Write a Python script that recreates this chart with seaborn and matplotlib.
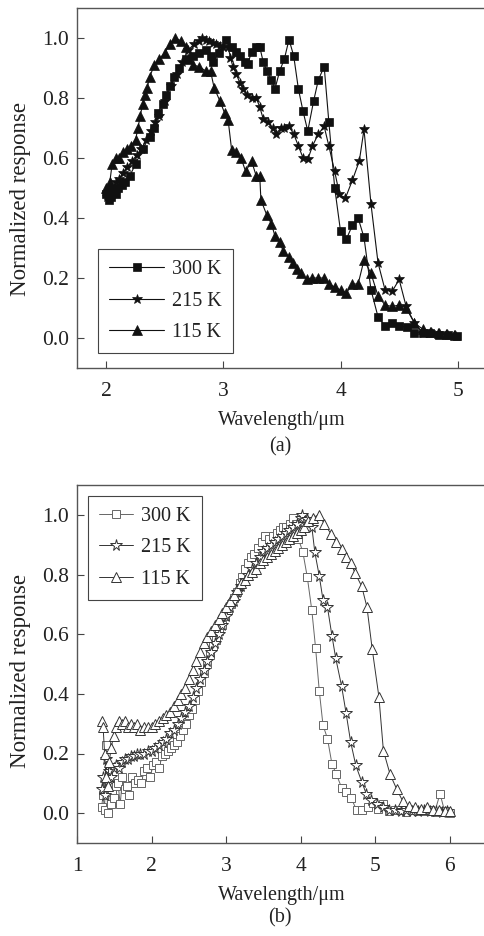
import matplotlib
matplotlib.use("Agg")
import matplotlib.pyplot as plt
import seaborn as sns

# ---- panel (a) ----
a_300_x = [2.00, 2.02, 2.04, 2.06, 2.08, 2.10, 2.13, 2.16, 2.20, 2.25, 2.31, 2.37, 2.41, 2.44, 2.48, 2.51, 2.54,
           2.58, 2.62, 2.68, 2.74, 2.79, 2.85, 2.89, 2.91, 2.96, 3.02, 3.07, 3.11, 3.14, 3.18, 3.21, 3.24, 3.28,
           3.31, 3.34, 3.37, 3.41, 3.44, 3.48, 3.52, 3.56, 3.60, 3.64, 3.68, 3.72, 3.77, 3.81, 3.86, 3.90, 3.95,
           4.00, 4.05, 4.10, 4.15, 4.20, 4.26, 4.32, 4.38, 4.44, 4.50, 4.57, 4.63, 4.70, 4.76, 4.84, 4.92, 4.99]
a_300_y = [0.48, 0.46, 0.47, 0.49, 0.48, 0.50, 0.51, 0.52, 0.54, 0.58, 0.63, 0.67, 0.70, 0.75, 0.78, 0.81, 0.84,
           0.87, 0.90, 0.93, 0.94, 0.95, 0.96, 0.94, 0.92, 0.95, 0.995, 0.97, 0.955, 0.94, 0.92, 0.915, 0.955, 0.97,
           0.97, 0.92, 0.89, 0.86, 0.83, 0.89, 0.93, 0.995, 0.94, 0.83, 0.755, 0.69, 0.79, 0.86, 0.905, 0.72, 0.50,
           0.355, 0.33, 0.375, 0.40, 0.335, 0.16, 0.07, 0.04, 0.05, 0.04, 0.035, 0.017, 0.018, 0.016, 0.01, 0.01, 0.007]

a_215_x = [2.01, 2.03, 2.05, 2.08, 2.11, 2.14, 2.18, 2.22, 2.26, 2.30, 2.34, 2.38, 2.42, 2.45, 2.50, 2.55, 2.60,
           2.65, 2.70, 2.75, 2.79, 2.82, 2.85, 2.88, 2.91, 2.94, 2.97, 3.00, 3.04, 3.06, 3.08, 3.11, 3.14, 3.17,
           3.20, 3.24, 3.28, 3.31, 3.34, 3.38, 3.42, 3.45, 3.49, 3.52, 3.56, 3.60, 3.64, 3.68, 3.72, 3.76, 3.81,
           3.86, 3.90, 3.95, 3.99, 4.04, 4.10, 4.16, 4.20, 4.26, 4.32, 4.38, 4.44, 4.50, 4.56, 4.63, 4.70, 4.76,
           4.83, 4.90, 4.97]
a_215_y = [0.47, 0.50, 0.48, 0.52, 0.53, 0.55, 0.57, 0.59, 0.61, 0.63, 0.66, 0.69, 0.72, 0.74, 0.79, 0.84, 0.88,
           0.92, 0.96, 0.98, 0.99, 1.00, 0.995, 0.99, 0.985, 0.98, 0.975, 0.97, 0.97, 0.935, 0.905, 0.88, 0.85, 0.83,
           0.81, 0.80, 0.80, 0.77, 0.73, 0.72, 0.70, 0.68, 0.70, 0.70, 0.705, 0.68, 0.64, 0.60, 0.595, 0.64, 0.68,
           0.705, 0.64, 0.555, 0.48, 0.465, 0.525, 0.59, 0.695, 0.445, 0.25, 0.16, 0.155, 0.195, 0.105, 0.05, 0.018,
           0.02, 0.015, 0.012, 0.01]

a_115_x = [2.00, 2.02, 2.03, 2.05, 2.08, 2.11, 2.14, 2.18, 2.21, 2.25, 2.27, 2.29, 2.31, 2.33, 2.35, 2.37, 2.41,
           2.45, 2.50, 2.54, 2.59, 2.64, 2.68, 2.71, 2.74, 2.79, 2.85, 2.89, 2.92, 2.97, 3.01, 3.04, 3.07, 3.11,
           3.15, 3.19, 3.24, 3.28, 3.31, 3.32, 3.37, 3.41, 3.44, 3.48, 3.51, 3.56, 3.59, 3.63, 3.66, 3.71, 3.76,
           3.81, 3.86, 3.90, 3.95, 4.00, 4.05, 4.10, 4.15, 4.20, 4.26, 4.32, 4.38, 4.44, 4.50, 4.56, 4.63, 4.70,
           4.77, 4.84, 4.91, 4.98]
a_115_y = [0.50, 0.48, 0.52, 0.58, 0.60, 0.60, 0.62, 0.63, 0.64, 0.66, 0.70, 0.74, 0.78, 0.81, 0.835, 0.87, 0.91,
           0.93, 0.95, 0.98, 1.00, 0.99, 0.97, 0.93, 0.91, 0.905, 0.89, 0.89, 0.835, 0.79, 0.75, 0.727, 0.627, 0.62,
           0.60, 0.555, 0.59, 0.54, 0.54, 0.46, 0.41, 0.38, 0.34, 0.32, 0.29, 0.27, 0.25, 0.23, 0.215, 0.195, 0.20,
           0.20, 0.20, 0.18, 0.17, 0.16, 0.15, 0.18, 0.18, 0.26, 0.215, 0.14, 0.11, 0.105, 0.11, 0.10, 0.05, 0.03,
           0.02, 0.015, 0.012, 0.01]

# ---- panel (b) ----
b_300_x = [1.33, 1.35, 1.37, 1.39, 1.41, 1.43, 1.45, 1.47, 1.49, 1.52, 1.55, 1.58, 1.61, 1.64, 1.67, 1.70, 1.74,
           1.78, 1.82, 1.86, 1.90, 1.94, 1.98, 2.02, 2.06, 2.10, 2.14, 2.18, 2.22, 2.26, 2.30, 2.34, 2.38, 2.42,
           2.46, 2.50, 2.54, 2.58, 2.62, 2.66, 2.70, 2.74, 2.78, 2.82, 2.86, 2.90, 2.94, 2.98, 3.02, 3.06, 3.10,
           3.14, 3.18, 3.22, 3.26, 3.30, 3.34, 3.38, 3.43, 3.48, 3.52, 3.57, 3.63, 3.68, 3.72, 3.77, 3.81, 3.86,
           3.90, 3.94, 3.97, 4.03, 4.09, 4.15, 4.20, 4.25, 4.30, 4.36, 4.42, 4.48, 4.55, 4.61, 4.68, 4.75, 4.82,
           4.90, 4.97, 5.04, 5.11, 5.18, 5.26, 5.34, 5.42, 5.50, 5.58, 5.66, 5.74, 5.80, 5.87, 5.93, 6.00]
b_300_y = [0.02, 0.06, 0.01, 0.23, 0.00, 0.10, 0.03, 0.07, 0.05, 0.09, 0.10, 0.03, 0.12, 0.08, 0.09, 0.06, 0.12,
           0.10, 0.11, 0.10, 0.14, 0.15, 0.12, 0.16, 0.17, 0.15, 0.19, 0.20, 0.21, 0.22, 0.23, 0.24, 0.26, 0.28,
           0.30, 0.33, 0.35, 0.38, 0.41, 0.44, 0.47, 0.50, 0.53, 0.56, 0.58, 0.61, 0.63, 0.66, 0.68, 0.70, 0.72,
           0.74, 0.77, 0.79, 0.82, 0.84, 0.86, 0.87, 0.89, 0.91, 0.93, 0.92, 0.93, 0.94, 0.95, 0.96, 0.96, 0.97,
           0.99, 0.97, 0.92, 0.875, 0.79, 0.68, 0.555, 0.41, 0.295, 0.25, 0.165, 0.13, 0.085, 0.07, 0.05, 0.01,
           0.012, 0.02, 0.035, 0.015, 0.03, 0.008, 0.012, 0.01, 0.004, 0.01, 0.006, 0.008, 0.01, 0.005, 0.065,
           0.008, 0.0]

b_215_x = [1.33, 1.35, 1.37, 1.39, 1.41, 1.43, 1.46, 1.49, 1.52, 1.56, 1.60, 1.64, 1.68, 1.72, 1.76, 1.80, 1.85,
           1.90, 1.95, 2.00, 2.05, 2.10, 2.15, 2.20, 2.25, 2.30, 2.35, 2.40, 2.45, 2.50, 2.55, 2.60, 2.65, 2.70,
           2.75, 2.80, 2.85, 2.90, 2.95, 3.00, 3.05, 3.10, 3.15, 3.20, 3.25, 3.30, 3.35, 3.40, 3.45, 3.50, 3.55,
           3.60, 3.65, 3.70, 3.75, 3.80, 3.85, 3.90, 3.95, 4.00, 4.02, 4.08, 4.15, 4.19, 4.25, 4.30, 4.36, 4.42,
           4.47, 4.55, 4.61, 4.67, 4.74, 4.82, 4.88, 4.95, 5.02, 5.10, 5.18, 5.26, 5.34, 5.42, 5.50, 5.58, 5.66,
           5.74, 5.82, 5.90, 5.97]
b_215_y = [0.08, 0.12, 0.06, 0.18, 0.10, 0.14, 0.12, 0.15, 0.16, 0.15, 0.17, 0.18, 0.18, 0.19, 0.19, 0.20, 0.20,
           0.20, 0.21, 0.21, 0.22, 0.23, 0.24, 0.25, 0.27, 0.28, 0.30, 0.32, 0.34, 0.36, 0.39, 0.42, 0.45, 0.48,
           0.51, 0.54, 0.57, 0.60, 0.63, 0.66, 0.69, 0.71, 0.74, 0.76, 0.78, 0.80, 0.82, 0.84, 0.86, 0.88, 0.89,
           0.90, 0.91, 0.92, 0.93, 0.94, 0.95, 0.96, 0.97, 0.99, 1.00, 0.985, 0.96, 0.875, 0.795, 0.715, 0.69,
           0.595, 0.52, 0.425, 0.335, 0.24, 0.16, 0.105, 0.065, 0.045, 0.03, 0.02, 0.012, 0.01, 0.008, 0.01, 0.006,
           0.008, 0.01, 0.006, 0.008, 0.005, 0.006]

b_115_x = [1.33, 1.35, 1.37, 1.39, 1.41, 1.43, 1.46, 1.49, 1.52, 1.56, 1.60, 1.64, 1.68, 1.72, 1.76, 1.80, 1.85,
           1.90, 1.95, 2.00, 2.05, 2.10, 2.15, 2.20, 2.25, 2.30, 2.35, 2.40, 2.45, 2.50, 2.55, 2.60, 2.65, 2.70,
           2.75, 2.80, 2.85, 2.90, 2.95, 3.00, 3.05, 3.10, 3.15, 3.20, 3.25, 3.30, 3.35, 3.40, 3.45, 3.50, 3.55,
           3.60, 3.65, 3.70, 3.75, 3.80, 3.85, 3.90, 3.95, 4.00, 4.05, 4.10, 4.16, 4.24, 4.32, 4.41, 4.47, 4.55,
           4.61, 4.67, 4.73, 4.82, 4.89, 4.96, 5.05, 5.11, 5.20, 5.29, 5.37, 5.45, 5.53, 5.61, 5.69, 5.77, 5.85,
           5.93, 6.00]
b_115_y = [0.31, 0.29, 0.20, 0.12, 0.09, 0.17, 0.22, 0.26, 0.29, 0.31, 0.30, 0.31, 0.29, 0.30, 0.29, 0.30, 0.28,
           0.29, 0.29, 0.29, 0.30, 0.31, 0.32, 0.33, 0.34, 0.36, 0.38, 0.40, 0.42, 0.45, 0.48, 0.51, 0.54, 0.57,
           0.59, 0.61, 0.63, 0.65, 0.67, 0.69, 0.71, 0.73, 0.75, 0.77, 0.78, 0.80, 0.81, 0.82, 0.84, 0.85, 0.86,
           0.87, 0.88, 0.89, 0.90, 0.91, 0.92, 0.93, 0.94, 0.95, 0.96, 0.98, 0.99, 1.00, 0.97, 0.935, 0.91, 0.885,
           0.86, 0.84, 0.805, 0.76, 0.69, 0.55, 0.39, 0.21, 0.13, 0.08, 0.04, 0.025, 0.02, 0.015, 0.02, 0.012, 0.01,
           0.008, 0.006]

labels = ["300 K", "215 K", "115 K"]
y_ticks = [0.0, 0.2, 0.4, 0.6, 0.8, 1.0]

sns.set_style("ticks")
plt.rcParams["font.family"] = ["Liberation Serif", "DejaVu Serif"]

fig = plt.figure(figsize=(4.84, 9.36), dpi=100)
ax_a = fig.add_axes([77 / 484, 1 - 368 / 936, 410 / 484, 360 / 936])
ax_b = fig.add_axes([77 / 484, 1 - 843 / 936, 410 / 484, 358 / 936])

# (a) filled markers
series_a = [(a_300_x, a_300_y, "s", 5.5), (a_215_x, a_215_y, "*", 7), (a_115_x, a_115_y, "^", 6.5)]
for (xs, ys, mk, ms), lab in zip(series_a, labels):
    sns.lineplot(x=xs, y=ys, ax=ax_a, color="#111111", lw=0.8, marker=mk, markersize=ms,
                 markerfacecolor="#111111", markeredgecolor="#111111", markeredgewidth=0.5,
                 estimator=None, sort=False, label=lab)

# (b) open markers
series_b = [(b_300_x, b_300_y, "s", 6, "#666666"), (b_215_x, b_215_y, "*", 8.5, "#333333"),
            (b_115_x, b_115_y, "^", 7, "#333333")]
for (xs, ys, mk, ms, c), lab in zip(series_b, labels):
    sns.lineplot(x=xs, y=ys, ax=ax_b, color=c, lw=0.7, marker=mk, markersize=ms,
                 markerfacecolor="white", markeredgecolor=c, markeredgewidth=0.7,
                 estimator=None, sort=False, label=lab)

for ax, ly in ((ax_a, 0.47), (ax_b, 0.48)):
    ax.set_ylim(-0.1, 1.1)
    ax.set_yticks(y_ticks)
    ax.set_yticklabels([f"{t:.1f}" for t in y_ticks])
    ax.tick_params(direction="in", length=5, width=0.8, color="#444444", labelsize=15.5,
                   labelcolor="#222222")
    ax.tick_params(axis="x", pad=10)
    ax.tick_params(axis="y", pad=6)
    for side in ("left", "top", "bottom"):
        ax.spines[side].set_color("#555555")
        ax.spines[side].set_linewidth(1.0)
    ax.spines["right"].set_visible(False)
    ax.set_xlabel("Wavelength/μm", fontsize=14.5, color="#222222", labelpad=7)
    ax.set_ylabel("Normalized response", fontsize=16.5, color="#222222")
    ax.yaxis.set_label_coords(-0.113, ly)

ax_a.set_xlim(1.75, 5.25)
ax_a.set_xticks([2, 3, 4, 5])
ax_b.set_xlim(1.0, 6.5)
ax_b.set_xticks([1, 2, 3, 4, 5, 6])

leg_kw = dict(fontsize=14.5, frameon=True, fancybox=False, framealpha=1, edgecolor="#444444",
              borderaxespad=0, handletextpad=0.4, borderpad=0.55, labelspacing=0.6)
la = ax_a.legend(loc="lower left", bbox_to_anchor=(0.052, 0.042), handlelength=2.7, **leg_kw)
lb = ax_b.legend(loc="upper left", bbox_to_anchor=(0.027, 0.969), handlelength=1.7, **leg_kw)
for leg in (la, lb):
    leg.get_frame().set_linewidth(0.8)
    for t in leg.get_texts():
        t.set_color("#222222")

fig.text(280 / 484, 1 - 447 / 936, "(a)", ha="center", va="center", fontsize=14.5, color="#222222")
fig.text(280 / 484, 1 - 918 / 936, "(b)", ha="center", va="center", fontsize=14.5, color="#222222")

fig.savefig("out.png", dpi=100)
